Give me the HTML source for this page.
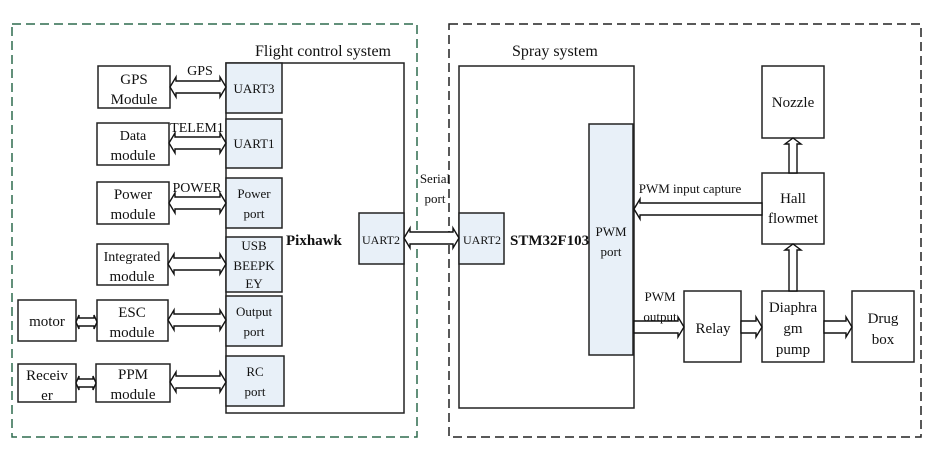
<!DOCTYPE html>
<html><head><meta charset="utf-8"><style>
html,body{margin:0;padding:0;background:#fff;}
svg{display:block;}
text{font-family:"Liberation Serif",serif;fill:#111;}
</style></head><body>
<svg width="936" height="457" viewBox="0 0 936 457" xmlns="http://www.w3.org/2000/svg">
<rect x="0" y="0" width="936" height="457" fill="#fff"/>
<!-- dashed containers -->
<rect x="12" y="24" width="405" height="413" fill="none" stroke="#2e6b4f" stroke-width="1.5" stroke-dasharray="9,5"/>
<rect x="449" y="24" width="472" height="413" fill="none" stroke="#222" stroke-width="1.5" stroke-dasharray="9,5"/>
<text x="255" y="56" font-size="16">Flight control system</text>
<text x="512" y="56" font-size="16">Spray system</text>

<g stroke="#222" stroke-width="1.5">
<!-- Pixhawk -->
<rect x="226" y="63" width="178" height="350" fill="#fff"/>
<rect x="226" y="63" width="56" height="50" fill="#e8f0f8"/>
<rect x="226" y="119" width="56" height="49" fill="#e8f0f8"/>
<rect x="226" y="178" width="56" height="50" fill="#e8f0f8"/>
<rect x="226" y="237" width="56" height="55" fill="#e8f0f8"/>
<rect x="226" y="296" width="56" height="50" fill="#e8f0f8"/>
<rect x="226" y="356" width="58" height="50" fill="#e8f0f8"/>
<rect x="359" y="213" width="45" height="51" fill="#e8f0f8"/>
<!-- left modules -->
<rect x="98" y="66" width="72" height="42" fill="#fff"/>
<rect x="97" y="123" width="72" height="42" fill="#fff"/>
<rect x="97" y="182" width="72" height="42" fill="#fff"/>
<rect x="97" y="244" width="71" height="41" fill="#fff"/>
<rect x="97" y="300" width="71" height="41" fill="#fff"/>
<rect x="96" y="364" width="74" height="38" fill="#fff"/>
<rect x="18" y="300" width="58" height="41" fill="#fff"/>
<rect x="18" y="364" width="58" height="38" fill="#fff"/>
<!-- STM -->
<rect x="459" y="66" width="175" height="342" fill="#fff"/>
<rect x="459" y="213" width="45" height="51" fill="#e8f0f8"/>
<rect x="589" y="124" width="44" height="231" fill="#e8f0f8"/>
<rect x="762" y="66" width="62" height="72" fill="#fff"/>
<rect x="762" y="173" width="62" height="71" fill="#fff"/>
<rect x="762" y="291" width="62" height="71" fill="#fff"/>
<rect x="684" y="291" width="57" height="71" fill="#fff"/>
<rect x="852" y="291" width="62" height="71" fill="#fff"/>
</g>

<!-- arrows -->
<g fill="#fff" stroke="#111" stroke-width="1.4">
<!-- horizontal double arrows: x1,x2,cy -->
<polygon points="170,87 176,77 176,81 220,81 220,77 226,87 220,97 220,93 176,93 176,97"/>
<polygon points="169,143 175,133 175,137 220,137 220,133 226,143 220,153 220,149 175,149 175,153"/>
<polygon points="169,203 175,193 175,197 220,197 220,193 226,203 220,213 220,209 175,209 175,213"/>
<polygon points="168,264 174,254 174,258 220,258 220,254 226,264 220,274 220,270 174,270 174,274"/>
<polygon points="168,320 174,310 174,314 220,314 220,310 226,320 220,330 220,326 174,326 174,330"/>
<polygon points="170,382 176,372 176,376 220,376 220,372 226,382 220,392 220,388 176,388 176,392"/>
<polygon points="76,322 79,315 79,318 94,318 94,315 97,322 94,329 94,326 79,326 79,329"/>
<polygon points="76,383 79,376 79,379 93,379 93,376 96,383 93,390 93,387 79,387 79,390"/>
<polygon points="404,238 410,228 410,232 453,232 453,228 459,238 453,248 453,244 410,244 410,248"/>
<!-- PWM input capture (left) -->
<polygon points="634,209 640,199 640,203 762,203 762,215 640,215 640,219"/>
<!-- PWM output (right) -->
<polygon points="634,321 678,321 678,317 684,327 678,337 678,333 634,333"/>
<polygon points="741,321 756,321 756,317 762,327 756,337 756,333 741,333"/>
<polygon points="824,321 846,321 846,317 852,327 846,337 846,333 824,333"/>
<!-- vertical up -->
<polygon points="789,291 789,250 785,250 793,244 801,250 797,250 797,291"/>
<polygon points="789,173 789,144 785,144 793,138 801,144 797,144 797,173"/>
</g>

<!-- labels -->
<g font-size="15" text-anchor="middle">
<text x="134" y="84">GPS</text><text x="134" y="104">Module</text>
<text x="133" y="140" font-size="14">Data</text><text x="133" y="160">module</text>
<text x="133" y="199">Power</text><text x="133" y="219">module</text>
<text x="132" y="261" font-size="14">Integrated</text><text x="132" y="281">module</text>
<text x="132" y="317">ESC</text><text x="132" y="337">module</text>
<text x="133" y="379">PPM</text><text x="133" y="399">module</text>
<text x="47" y="326">motor</text>
<text x="47" y="380">Receiv</text><text x="47" y="400">er</text>
<text x="200" y="75" font-size="14">GPS</text>
<text x="197" y="132" font-size="14">TELEM1</text>
<text x="197" y="192" font-size="14">POWER</text>
</g>
<g font-size="13" text-anchor="middle">
<text x="254" y="93">UART3</text>
<text x="254" y="148">UART1</text>
<text x="254" y="198">Power</text><text x="254" y="218">port</text>
<text x="254" y="250">USB</text><text x="254" y="270">BEEPK</text><text x="254" y="288">EY</text>
<text x="254" y="316">Output</text><text x="254" y="336">port</text>
<text x="255" y="376">RC</text><text x="255" y="396">port</text>
<text x="381" y="244" font-size="12">UART2</text>
<text x="482" y="244" font-size="12">UART2</text>
<text x="435" y="183">Serial</text><text x="435" y="203">port</text>
<text x="611" y="236">PWM</text><text x="611" y="256">port</text>
<text x="690" y="193">PWM input capture</text>
<text x="660" y="301">PWM</text><text x="660" y="321">output</text>
</g>
<g font-size="15" text-anchor="middle">
<text x="793" y="107">Nozzle</text>
<text x="793" y="203">Hall</text><text x="793" y="223">flowmet</text>
<text x="713" y="333">Relay</text>
<text x="793" y="312">Diaphra</text><text x="793" y="333">gm</text><text x="793" y="354">pump</text>
<text x="883" y="323">Drug</text><text x="883" y="344">box</text>
</g>
<text x="286" y="245" font-size="15" font-weight="bold">Pixhawk</text>
<text x="510" y="245" font-size="15" font-weight="bold">STM32F103</text>
</svg>
</body></html>
